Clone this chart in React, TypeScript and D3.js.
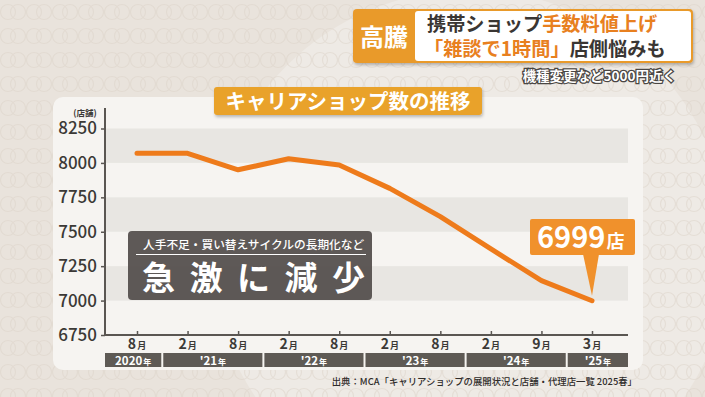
import React, { useEffect, useRef } from "react";
import * as d3 from "d3";

// 携帯キャリアショップ数の推移（MCA調べ）
const months = ["8", "2", "8", "2", "8", "2", "8", "2", "9", "3"];
const periods = ["2020-08", "2021-02", "2021-08", "2022-02", "2022-08", "2023-02", "2023-08", "2024-02", "2024-09", "2025-03"];
const shops = [8070, 8070, 7950, 8030, 7985, 7815, 7610, 7375, 7145, 6999];
const yTicks = [6750, 7000, 7250, 7500, 7750, 8000, 8250];
const yearLabels = ["2020", "'21", "'22", "'23", "'24", "'25"];
const yearFirst = [0, 1, 3, 5, 7, 9];
const yearLast = [0, 2, 4, 6, 8, 9];

const FONT = "'Noto Sans CJK JP', 'Noto Sans', sans-serif";

const App = () => {
  const ref = useRef<SVGSVGElement>(null);

  useEffect(() => {
    const svg = d3.select(ref.current);
    svg.selectAll("*").remove();

    const left = 105;
    const right = 628;
    const top = 128.5;
    const bottom = 335;

    const x = d3.scalePoint<string>().domain(periods).range([137, 592]);
    const y = d3.scaleLinear().domain([6750, 8250]).range([bottom, top]);
    const step = x.step();

    // background
    const defs = svg.append("defs");
    const pat = defs.append("pattern")
      .attr("id", "rings")
      .attr("width", 26)
      .attr("height", 24)
      .attr("patternUnits", "userSpaceOnUse");
    pat.append("circle").attr("cx", 8).attr("cy", 12).attr("r", 7.5)
      .attr("fill", "none").attr("stroke", "#ddd4ca").attr("stroke-width", 1.2);
    pat.append("circle").attr("cx", 18).attr("cy", 12).attr("r", 7.5)
      .attr("fill", "none").attr("stroke", "#ddd4ca").attr("stroke-width", 1.2);

    const shadow = defs.append("filter").attr("id", "sh").attr("x", "-10%").attr("y", "-10%")
      .attr("width", "130%").attr("height", "140%");
    shadow.append("feDropShadow").attr("dx", 1).attr("dy", 2).attr("stdDeviation", 1.5)
      .attr("flood-color", "#000").attr("flood-opacity", 0.25);

    svg.append("rect").attr("width", 705).attr("height", 397).attr("fill", "#e9e3dc");
    svg.append("circle").attr("cx", 470).attr("cy", 250).attr("r", 260).attr("fill", "#eeeae5");
    svg.append("rect").attr("width", 705).attr("height", 397).attr("fill", "url(#rings)").attr("opacity", 0.55);

    // panel
    svg.append("rect")
      .attr("x", 53).attr("y", 97).attr("width", 590).attr("height", 273).attr("rx", 10)
      .attr("fill", "#f6f4f1");

    // alternating bands
    const bandPairs = [[8000, 8250], [7500, 7750], [7000, 7250]];
    svg.append("g").selectAll("rect").data(bandPairs).enter().append("rect")
      .attr("x", left)
      .attr("y", (d) => y(d[1]))
      .attr("width", right - left)
      .attr("height", (d) => y(d[0]) - y(d[1]))
      .attr("fill", "#e8e6e2");

    // y axis
    const yAxis = svg.append("g")
      .attr("transform", `translate(${left},0)`)
      .call(d3.axisLeft(y).tickValues(yTicks).tickFormat(d3.format("d")).tickSize(4).tickPadding(4).tickSizeOuter(0));
    yAxis.select(".domain").attr("stroke", "#5a5652").attr("stroke-width", 2)
      .attr("d", `M0,${108}V${bottom}`);
    yAxis.selectAll(".tick line").attr("stroke", "#5a5652").attr("stroke-width", 1.5);
    yAxis.selectAll(".tick text")
      .attr("font-family", FONT).attr("font-size", 17).attr("font-weight", 500)
      .attr("fill", "#3b3936");

    svg.append("text").attr("x", 85).attr("y", 115.5).attr("text-anchor", "middle")
      .attr("font-family", FONT).attr("font-size", 8.5).attr("font-weight", 700).attr("fill", "#3b3936")
      .text("(店舗)");

    // x axis
    const xAxis = svg.append("g")
      .attr("transform", `translate(0,${bottom})`)
      .call(d3.axisBottom(x).tickSize(-4).tickFormat(() => ""));
    xAxis.select(".domain").attr("stroke", "#5a5652").attr("stroke-width", 2)
      .attr("d", `M${left},0H${right}`);
    xAxis.selectAll(".tick line").attr("stroke", "#5a5652").attr("stroke-width", 1.5);

    const monthText = svg.append("g").selectAll("text").data(periods).enter().append("text")
      .attr("x", (d) => x(d)!)
      .attr("y", 349)
      .attr("text-anchor", "middle")
      .attr("font-family", FONT).attr("font-weight", 700).attr("fill", "#3b3936");
    monthText.append("tspan").attr("font-size", 14).text((d, i) => months[i]);
    monthText.append("tspan").attr("font-size", 9).attr("dx", 1).text("月");

    // year bars
    const yg = svg.append("g").selectAll("g").data(yearLabels).enter().append("g");
    const x0 = (i: number) => (yearFirst[i] === 0 ? left : x(periods[yearFirst[i]])! - step / 2 + 1);
    const x1 = (i: number) => (yearLast[i] === periods.length - 1 ? right : x(periods[yearLast[i]])! + step / 2 - 1);
    yg.append("rect")
      .attr("x", (d, i) => x0(i))
      .attr("y", 353)
      .attr("width", (d, i) => x1(i) - x0(i))
      .attr("height", 14)
      .attr("fill", "#5e5a55");
    const yt = yg.append("text")
      .attr("x", (d, i) => (x0(i) + x1(i)) / 2)
      .attr("y", 364.5)
      .attr("text-anchor", "middle")
      .attr("font-family", FONT).attr("font-weight", 700).attr("fill", "#fff");
    yt.append("tspan").attr("font-size", 11.5).text((d) => d);
    yt.append("tspan").attr("font-size", 8).attr("dx", 1).text("年");

    // line
    const line = d3.line<number>()
      .x((d, i) => x(periods[i])!)
      .y((d) => y(d));
    svg.append("path")
      .datum(shops)
      .attr("d", line)
      .attr("fill", "none")
      .attr("stroke", "#ee7b1b")
      .attr("stroke-width", 5)
      .attr("stroke-linejoin", "round")
      .attr("stroke-linecap", "round");

    // callout for latest value
    const lastX = x(periods[periods.length - 1])!;
    const lastY = y(shops[shops.length - 1]);
    const cg = svg.append("g");
    cg.append("path")
      .attr("d", `M${lastX - 9},254 L${lastX + 7},254 L${lastX},${lastY - 5} Z`)
      .attr("fill", "#f0912c");
    cg.append("rect")
      .attr("x", lastX - 62).attr("y", 219).attr("width", 105).attr("height", 36).attr("rx", 2)
      .attr("fill", "#f0912c");
    const ct = cg.append("text")
      .attr("x", lastX - 55).attr("y", 247.5)
      .attr("font-family", FONT).attr("font-weight", 700).attr("fill", "#fff");
    ct.append("tspan").attr("font-size", 29).text(d3.format("d")(shops[shops.length - 1]));
    ct.append("tspan").attr("font-size", 18).attr("dx", 1).text("店");

    // annotation box
    const ag = svg.append("g");
    ag.append("rect")
      .attr("x", 128).attr("y", 231).attr("width", 244).attr("height", 69).attr("rx", 4)
      .attr("fill", "#575250").attr("opacity", 0.96);
    ag.append("text").attr("x", 143).attr("y", 249)
      .attr("font-family", FONT).attr("font-size", 11.7).attr("font-weight", 500).attr("fill", "#fff")
      .text("人手不足・買い替えサイクルの長期化など");
    ag.append("line").attr("x1", 136).attr("x2", 366).attr("y1", 254.5).attr("y2", 254.5)
      .attr("stroke", "#fff").attr("stroke-width", 1.2);
    ag.append("text").attr("x", 142).attr("y", 290)
      .attr("font-family", FONT).attr("font-size", 33).attr("font-weight", 700).attr("fill", "#fff")
      .attr("letter-spacing", 14.5)
      .text("急激に減少");

    // chart title
    const tg = svg.append("g");
    tg.append("rect").attr("x", 214).attr("y", 87).attr("width", 268).attr("height", 28).attr("rx", 3)
      .attr("fill", "#e9a22a").attr("filter", "url(#sh)");
    tg.append("text").attr("x", 348).attr("y", 109).attr("text-anchor", "middle")
      .attr("font-family", FONT).attr("font-size", 20.5).attr("font-weight", 700).attr("fill", "#fff")
      .text("キャリアショップ数の推移");

    // headline
    const hg = svg.append("g");
    hg.append("rect").attr("x", 353).attr("y", 9).attr("width", 340).attr("height", 54).attr("rx", 4)
      .attr("fill", "#e99a2c").attr("filter", "url(#sh)");
    hg.append("rect").attr("x", 415).attr("y", 11).attr("width", 276).attr("height", 50).attr("rx", 3)
      .attr("fill", "#fff");
    hg.append("text").attr("x", 384).attr("y", 46).attr("text-anchor", "middle")
      .attr("font-family", FONT).attr("font-size", 24).attr("font-weight", 700).attr("fill", "#fff")
      .text("高騰");
    const h1 = hg.append("text").attr("x", 427).attr("y", 31)
      .attr("font-family", FONT).attr("font-size", 19.2).attr("font-weight", 700);
    h1.append("tspan").attr("fill", "#3a3633").text("携帯ショップ");
    h1.append("tspan").attr("fill", "#e8801f").text("手数料値上げ");
    const h2 = hg.append("text").attr("x", 424).attr("y", 55.5)
      .attr("font-family", FONT).attr("font-size", 19.2).attr("font-weight", 700);
    h2.append("tspan").attr("fill", "#e8801f").text("「雑談で1時間」");
    h2.append("tspan").attr("fill", "#3a3633").text("店側悩みも");
    svg.append("text").attr("x", 676).attr("y", 80.5).attr("text-anchor", "end")
      .attr("font-family", FONT).attr("font-size", 13.5).attr("font-weight", 700)
      .attr("fill", "#fff").attr("stroke", "#4a4643").attr("stroke-width", 2.5)
      .attr("paint-order", "stroke")
      .text("機種変更など5000円近く");

    // source
    svg.append("text").attr("x", 637).attr("y", 385).attr("text-anchor", "end")
      .attr("font-family", FONT).attr("font-size", 9.4).attr("font-weight", 500).attr("fill", "#2f2c2a")
      .text("出典：MCA「キャリアショップの展開状況と店舗・代理店一覧 2025春」");
  }, []);

  return (
    <svg
      ref={ref}
      width={705}
      height={397}
      style={{ position: "absolute", left: 0, top: 0 }}
    />
  );
};

export default App;
